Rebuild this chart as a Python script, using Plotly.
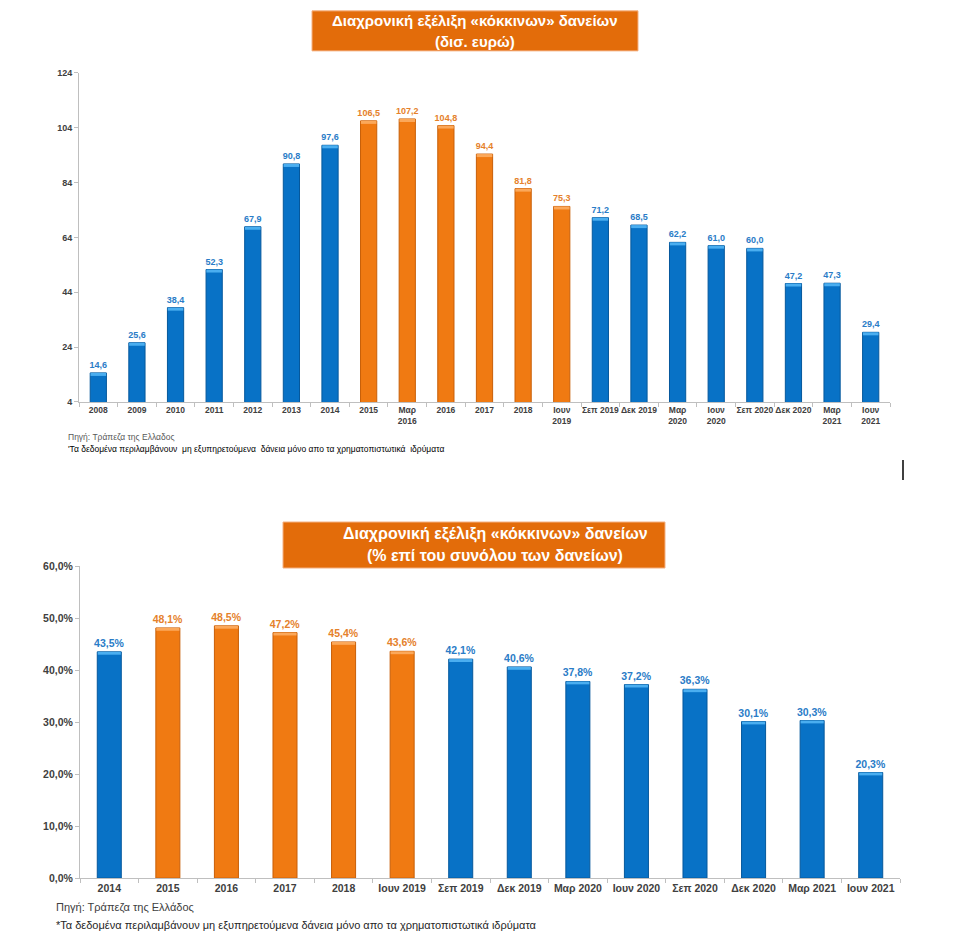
import plotly.graph_objects as go

# ---------------- data ----------------
cats_top = ["2008", "2009", "2010", "2011", "2012", "2013", "2014", "2015",
            "Μαρ<br>2016", "2016", "2017", "2018", "Ιουν<br>2019", "Σεπ 2019",
            "Δεκ 2019", "Μαρ<br>2020", "Ιουν<br>2020", "Σεπ 2020", "Δεκ 2020",
            "Μαρ<br>2021", "Ιουν<br>2021"]
vals_top = [14.6, 25.6, 38.4, 52.3, 67.9, 90.8, 97.6, 106.5, 107.2, 104.8, 94.4,
            81.8, 75.3, 71.2, 68.5, 62.2, 61.0, 60.0, 47.2, 47.3, 29.4]
orange_top = ["2015", "Μαρ<br>2016", "2016", "2017", "2018", "Ιουν<br>2019"]

cats_bot = ["2014", "2015", "2016", "2017", "2018", "Ιουν 2019", "Σεπ 2019",
            "Δεκ 2019", "Μαρ 2020", "Ιουν 2020", "Σεπ 2020", "Δεκ 2020",
            "Μαρ 2021", "Ιουν 2021"]
vals_bot = [43.5, 48.1, 48.5, 47.2, 45.4, 43.6, 42.1, 40.6, 37.8, 37.2, 36.3,
            30.1, 30.3, 20.3]
orange_bot = ["2015", "2016", "2017", "2018", "Ιουν 2019"]

title_top = ["Διαχρονική εξέλιξη «κόκκινων» δανείων", "(δισ. ευρώ)"]
title_bot = ["Διαχρονική εξέλιξη «κόκκινων» δανείων", "(% επί του συνόλου των δανείων)"]
note_src_top = "Πηγή: Τράπεζα της Ελλαδος"
note_star_top = "'Τα δεδομένα περιλαμβάνουν  μη εξυπηρετούμενα  δάνεια μόνο απο τα χρηματοπιστωτικά  ιδρύματα"
note_src_bot = "Πηγή: Τράπεζα της Ελλάδος"
note_star_bot = "*Τα δεδομένα περιλαμβάνουν μη εξυπηρετούμενα δάνεια μόνο απο τα χρηματοπιστωτικά ιδρύματα"

# ---------------- styles ----------------
W, H = 966, 944
BLUE, BLUE_CAP, BLUE_EDGE, BLUE_TXT = "#0872C6", "#4AAEF0", "#05589C", "#2A7CC7"
ORG, ORG_CAP, ORG_EDGE, ORG_TXT = "#F07A12", "#FBA85A", "#C85F08", "#E5812B"
FONT = "Liberation Sans, Arial, sans-serif"
AXIS_COL = "#BFBFBF"
TICK_COL = "#404040"


def px(x):
    return x / W


def py(y):
    # pixel-from-top -> paper fraction (slight vertical stretch to match rendering)
    y2 = 472 + (y - 472) / 0.987
    return 1 - y2 / H


def fmt(v, suffix=""):
    return f"{v:.1f}".replace(".", ",") + suffix


fig = go.Figure()


def add_bars(cats, vals, oranges, xa, ya, cap, width, txt_size, suffix):
    cols = [ORG if c in oranges else BLUE for c in cats]
    caps = [ORG_CAP if c in oranges else BLUE_CAP for c in cats]
    edges = [ORG_EDGE if c in oranges else BLUE_EDGE for c in cats]
    tcols = [ORG_TXT if c in oranges else BLUE_TXT for c in cats]
    fig.add_trace(go.Bar(
        x=cats, y=vals, xaxis=xa, yaxis=ya, width=width,
        marker=dict(color=cols, line=dict(color=edges, width=1)),
        text=[fmt(v, suffix) for v in vals], textposition="outside",
        constraintext="none",
        textfont=dict(family=FONT, size=txt_size, color=tcols, weight="bold"),
        cliponaxis=False, showlegend=False, hoverinfo="skip"))
    fig.add_trace(go.Bar(
        x=cats, y=[cap] * len(vals), base=[v - cap for v in vals],
        xaxis=xa, yaxis=ya, width=width * 0.96,
        marker=dict(color=caps, line=dict(width=0)),
        showlegend=False, hoverinfo="skip"))


add_bars(cats_top, vals_top, orange_top, "x", "y", 1.1, 0.42, 9, "")
add_bars(cats_bot, vals_bot, orange_bot, "x2", "y2", 0.55, 0.41, 10.5, "%")

axis_common = dict(showline=True, linecolor=AXIS_COL, linewidth=1,
                   showgrid=False, zeroline=False, ticks="outside",
                   tickcolor=AXIS_COL, ticklen=4, fixedrange=True)

fig.update_layout(
    width=W, height=H, margin=dict(l=0, r=0, t=0, b=0),
    paper_bgcolor="white", plot_bgcolor="white",
    barmode="overlay", separators=", ",
    xaxis=dict(domain=[px(79), px(890)], anchor="y", tickson="boundaries",
               tickangle=0,
               tickfont=dict(family=FONT, size=8.5, color=TICK_COL, weight="bold"),
               **axis_common),
    yaxis=dict(domain=[py(402), py(73)], anchor="x", range=[4, 124],
               tick0=4, dtick=20,
               tickfont=dict(family=FONT, size=9, color=TICK_COL, weight="bold"),
               **axis_common),
    xaxis2=dict(domain=[px(80), px(900)], anchor="y2", tickson="boundaries",
                tickangle=0,
                tickfont=dict(family=FONT, size=10.5, color=TICK_COL, weight="bold"),
                **axis_common),
    yaxis2=dict(domain=[py(878), py(566)], anchor="x2", range=[0, 60],
                dtick=10, tickformat=".1f", ticksuffix="%",
                tickfont=dict(family=FONT, size=10.5, color=TICK_COL, weight="bold"),
                **axis_common),
)

# title boxes
shapes = [
    dict(type="rect", xref="paper", yref="paper", x0=px(312), x1=px(638),
         y0=py(51), y1=py(11), fillcolor="#E36C0A", line=dict(color="#F4B183", width=1)),
    dict(type="rect", xref="paper", yref="paper", x0=px(283), x1=px(665),
         y0=py(568), y1=py(522), fillcolor="#E36C0A", line=dict(color="#F4B183", width=1)),
    dict(type="line", xref="paper", yref="paper", x0=px(903), x1=px(903),
         y0=py(460), y1=py(480), line=dict(color="black", width=1.5)),
]
fig.update_layout(shapes=shapes)

ann = []
for line, y in zip(title_top, [21, 42]):
    ann.append(dict(text=line, x=px(475), y=py(y), xref="paper", yref="paper",
                    showarrow=False, xanchor="center", yanchor="middle",
                    font=dict(family=FONT, size=15, color="white", weight="bold")))
for line, y in zip(title_bot, [534, 555]):
    ann.append(dict(text=line, x=px(495), y=py(y), xref="paper", yref="paper",
                    showarrow=False, xanchor="center", yanchor="middle",
                    font=dict(family=FONT, size=16, color="white", weight="bold")))
ann.append(dict(text=note_src_top, x=px(66), y=py(437), xref="paper", yref="paper",
                showarrow=False, xanchor="left", yanchor="middle",
                font=dict(family=FONT, size=8.5, color="#595959")))
ann.append(dict(text=note_star_top, x=px(66), y=py(449), xref="paper", yref="paper",
                showarrow=False, xanchor="left", yanchor="middle",
                font=dict(family=FONT, size=8.5, color="#000000")))
ann.append(dict(text=note_src_bot, x=px(54), y=py(907), xref="paper", yref="paper",
                showarrow=False, xanchor="left", yanchor="middle",
                font=dict(family=FONT, size=11, color="#404040")))
ann.append(dict(text=note_star_bot, x=px(54), y=py(925), xref="paper", yref="paper",
                showarrow=False, xanchor="left", yanchor="middle",
                font=dict(family=FONT, size=11, color="#262626")))
fig.update_layout(annotations=ann)

fig.write_html("out.html")
